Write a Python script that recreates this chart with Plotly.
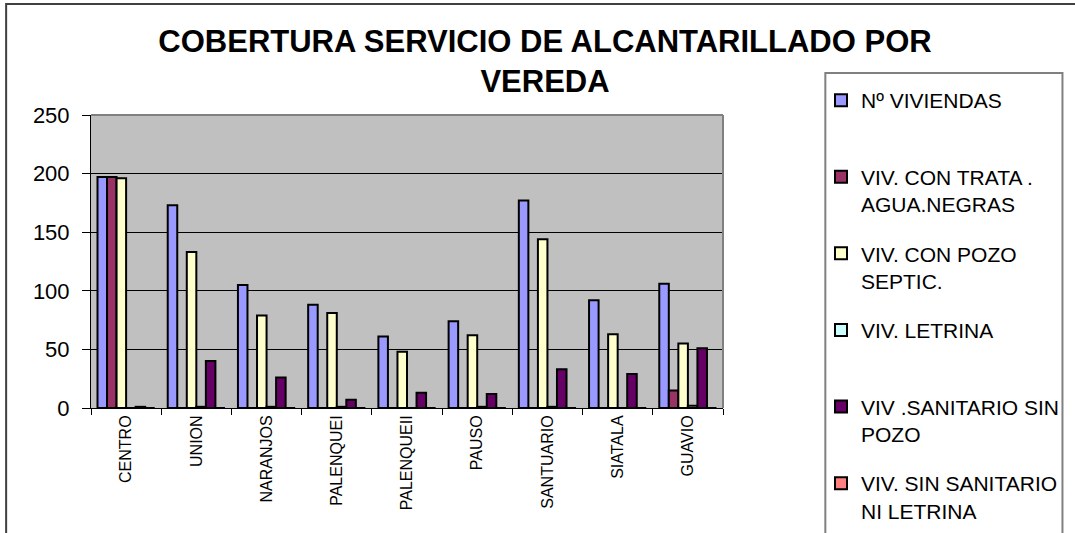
import plotly.graph_objects as go

categories = ["CENTRO", "UNION", "NARANJOS", "PALENQUEI", "PALENQUEII",
              "PAUSO", "SANTUARIO", "SIATALA", "GUAVIO"]

series_names = [
    "Nº VIVIENDAS",
    "VIV. CON TRATA .<br>AGUA.NEGRAS",
    "VIV. CON POZO<br>SEPTIC.",
    "VIV. LETRINA",
    "VIV .SANITARIO SIN<br>POZO",
    "VIV. SIN SANITARIO<br>NI LETRINA",
]

viviendas = [197, 173, 105, 88, 61, 74, 177, 92, 106]
trata_aguas = [197, 0, 0, 0, 0, 0, 0, 0, 15]
pozo_septico = [196, 133, 79, 81, 48, 62, 144, 63, 55]
letrina = [0, 1, 1, 1, 0, 1, 1, 0, 2]
sanitario_sin_pozo = [1, 40, 26, 7, 13, 12, 33, 29, 51]
sin_sanitario = [0, 0, 0, 0, 0, 0, 0, 0, 0]

series_values = [viviendas, trata_aguas, pozo_septico, letrina,
                 sanitario_sin_pozo, sin_sanitario]
colors = ["#9999FF", "#993366", "#FFFFCC", "#CCFFFF", "#660066", "#FF8080"]

W, H = 1075, 533
L, R, T, B = 91, 724, 115, 408


def px_x(p):
    return (p - L) / (R - L)


def px_y(p):
    return (B - p) / (B - T)


fig = go.Figure()
for i, (name, vals, col) in enumerate(zip(series_names, series_values, colors)):
    label = name if "<br>" in name else name + "<br> "
    fig.add_trace(go.Bar(
        x=categories, y=vals, name=label, legendgroup=f"g{i}",
        marker=dict(color=col, line=dict(color="black", width=2)),
    ))

fig.update_layout(
    width=W, height=H, autosize=False,
    margin=dict(l=L, r=W - R, t=T, b=H - B, pad=0),
    paper_bgcolor="white", plot_bgcolor="#C0C0C0",
    barmode="group", bargap=0.185, bargroupgap=0,
    font=dict(family="Arial, Liberation Sans, sans-serif", color="black"),
    title=dict(
        text="<b>COBERTURA SERVICIO DE ALCANTARILLADO POR<br>VEREDA</b>",
        font=dict(size=31, color="black"),
        xref="container", yref="container",
        x=545 / W, xanchor="center", y=1 - 52 / H, yanchor="middle",
    ),
    showlegend=True,
    legend=dict(
        x=px_x(821), y=px_y(80), xanchor="left", yanchor="top",
        traceorder="grouped", tracegroupgap=19, valign="top",
        maxheight=525,
        font=dict(size=21, color="black"), bgcolor="rgba(0,0,0,0)",
        borderwidth=0,
    ),
    xaxis=dict(
        showline=True, linecolor="black", linewidth=1,
        ticks="outside", ticklen=6, tickcolor="black", tickson="boundaries",
        tickangle=-90, tickfont=dict(size=16), showgrid=False,
    ),
    yaxis=dict(
        range=[0, 250], dtick=50, showline=True, linecolor="black", linewidth=1,
        ticks="outside", ticklen=8, tickcolor="black", ticklabelstandoff=8,
        showgrid=True, gridcolor="black", gridwidth=1,
        tickfont=dict(size=22), zeroline=False,
    ),
    shapes=[
        # outer chart frame
        dict(type="rect", xref="paper", yref="paper",
             x0=px_x(6), x1=px_x(1085), y0=px_y(545), y1=px_y(4),
             line=dict(color="#404040", width=2), fillcolor="rgba(0,0,0,0)",
             layer="above"),
        # plot area top/right border
        dict(type="line", xref="paper", yref="paper", x0=0, x1=1, y0=1, y1=1,
             line=dict(color="#808080", width=2)),
        dict(type="line", xref="paper", yref="paper", x0=1, x1=1, y0=0, y1=1,
             line=dict(color="#808080", width=2)),
        # legend box
        dict(type="rect", xref="paper", yref="paper",
             x0=px_x(826.5), x1=px_x(1064), y0=px_y(545), y1=px_y(73),
             line=dict(color="#808080", width=2), fillcolor="rgba(0,0,0,0)"),
    ],
)

fig.write_html(
    "out.html",
    config={"displayModeBar": False},
    post_script="document.body.style.margin='0';"
                "document.body.style.overflow='hidden';",
)
